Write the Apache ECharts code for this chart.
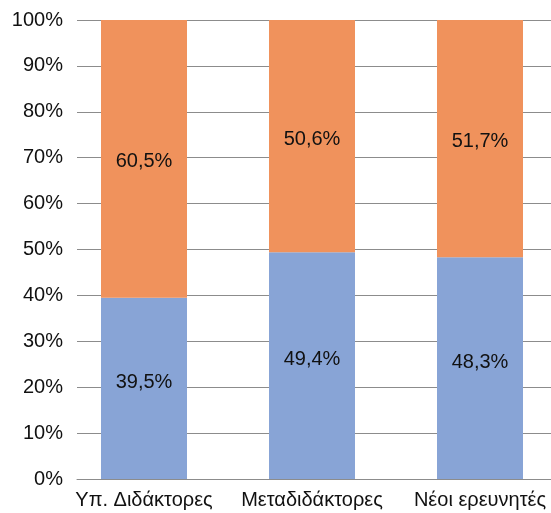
<!DOCTYPE html>
<html>
<head>
<meta charset="utf-8">
<script src="https://cdn.jsdelivr.net/npm/echarts@6/dist/echarts.min.js"></script>
<style>
  html, body { margin: 0; padding: 0; background: #fff; }
  #chart { width: 551px; height: 513px; }
</style>
</head>
<body>
<div id="chart"></div>
<script>
// categories and shares (%)
const categories = ['Υπ. Διδάκτορες', 'Μεταδιδάκτορες', 'Νέοι ερευνητές']
const lowerShare = [39.5, 49.4, 48.3]
const upperShare = [60.5, 50.6, 51.7]
const yTicks = [0, 10, 20, 30, 40, 50, 60, 70, 80, 90, 100]

const fontFamily = '"Liberation Sans", Arial, Helvetica, sans-serif'
const fmt = (v) => v.toFixed(1).replace('.', ',') + '%'

const chart = echarts.init(document.getElementById('chart'))

const labelStyle = (dy) => ({
  show: true,
  position: 'inside',
  offset: [0, dy],
  color: '#111',
  fontSize: 20,
  fontFamily,
  formatter: (p) => fmt(p.value),
})

const yRange = { min: yTicks[0], max: yTicks[yTicks.length - 1], interval: 10 }

chart.setOption({
  animation: false,
  // grid 0 holds the bars (its last band runs past the edge), grid 1 the gridlines and y labels
  grid: [
    { left: 60, width: 504, top: 20, bottom: 34, outerBoundsMode: 'none', containLabel: false },
    { left: 77, right: 0, top: 20, bottom: 34, outerBoundsMode: 'none', containLabel: false },
  ],
  xAxis: [
    {
      type: 'category',
      gridIndex: 0,
      data: categories,
      axisLine: { show: false },
      axisTick: { show: false },
      axisLabel: { interval: 0, hideOverlap: false, color: '#111', fontSize: 20, fontFamily, margin: 11 },
    },
    {
      type: 'value',
      gridIndex: 1,
      axisLine: { show: true, lineStyle: { color: '#8c8c8c', width: 1 } },
      axisTick: { show: false },
      axisLabel: { show: false },
      splitLine: { show: false },
    },
  ],
  yAxis: [
    {
      type: 'value',
      gridIndex: 0,
      ...yRange,
      show: false,
      splitLine: { show: false },
    },
    {
      type: 'value',
      gridIndex: 1,
      ...yRange,
      axisLine: { show: false },
      axisTick: { show: false },
      splitLine: { show: true, lineStyle: { color: '#8c8c8c', width: 1 } },
      axisLabel: { formatter: '{value}%', color: '#111', fontSize: 20, fontFamily, margin: 14 },
    },
  ],
  series: [
    {
      type: 'bar',
      stack: 'total',
      barWidth: 86,
      itemStyle: { color: '#88a4d6' },
      label: labelStyle(-6),
      data: lowerShare,
    },
    {
      type: 'bar',
      stack: 'total',
      barWidth: 86,
      itemStyle: { color: '#f0925c' },
      label: labelStyle(3),
      data: upperShare,
    },
  ],
})
</script>
</body>
</html>
